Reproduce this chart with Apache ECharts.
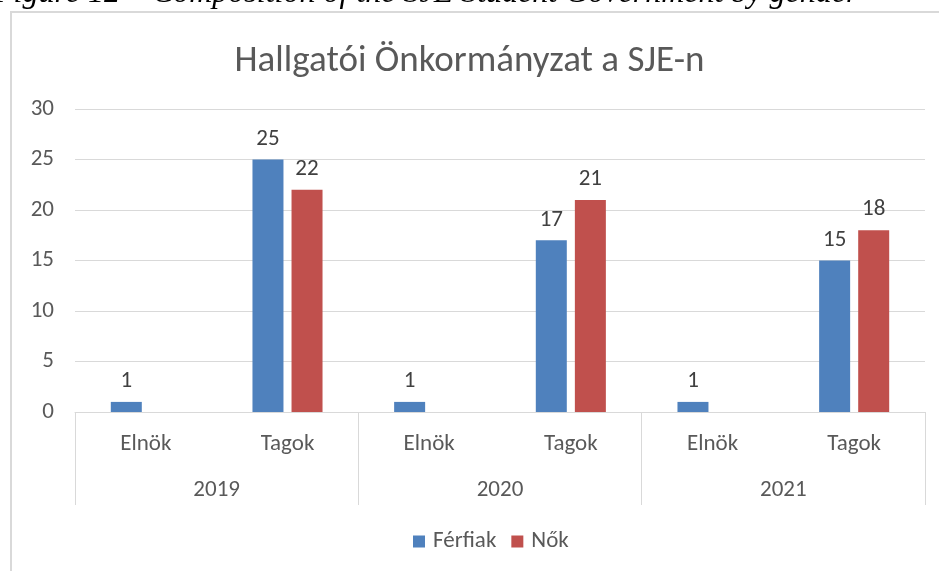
<!DOCTYPE html>
<html>
<head>
<meta charset="utf-8">
<script src="https://cdn.jsdelivr.net/npm/echarts@6/dist/echarts.min.js"></script>
<style>
  html, body { margin: 0; padding: 0; background: #fff; }
  #chart { width: 939px; height: 571px; }
</style>
</head>
<body>
<div id="chart"></div>
<script>
// adatok
const roles = ['Elnök', 'Tagok', 'Elnök', 'Tagok', 'Elnök', 'Tagok']
const years = ['2019', '2020', '2021']
const ferfiak = [1, 25, 1, 17, 1, 15]
const nok = [null, 22, null, 21, null, 18]
const yTicks = [0, 5, 10, 15, 20, 25, 30]

const font = 'Carlito, "Liberation Sans Narrow", "DejaVu Sans Condensed", sans-serif'
const txt = '#595959'

const chart = echarts.init(document.getElementById('chart'))
chart.setOption({
  animation: false,
  textStyle: { fontFamily: font },
  title: {
    text: 'Hallgatói Önkormányzat a SJE-n',
    left: 'center',
    top: 38,
    textStyle: { fontSize: 37, fontWeight: 'normal', color: txt, fontFamily: font }
  },
  graphic: [
    // levágott ábrafelirat
    {
      type: 'text',
      left: -6,
      top: -22,
      style: {
        text: 'Figure 12 – Composition of the SJE Student Government by gender',
        font: 'italic 32px "Liberation Serif", "DejaVu Serif", serif',
        fill: '#000'
      }
    },
    // diagram keret
    {
      type: 'rect',
      shape: { x: 11, y: 12, width: 950, height: 600 },
      style: { fill: 'none', stroke: '#d9d9d9', lineWidth: 2 },
      z: -1
    }
  ],
  legend: {
    bottom: 13,
    left: 408,
    itemWidth: 12,
    itemHeight: 12,
    itemGap: 15,
    icon: 'rect',
    textStyle: { fontSize: 23, color: txt, fontFamily: font, padding: [0, 0, 0, 3] },
    data: ['Férfiak', 'Nők']
  },
  grid: { left: 75, right: 14, top: 109, bottom: 159 },
  xAxis: [
    {
      type: 'category',
      data: roles,
      axisLine: { lineStyle: { color: '#d9d9d9' } },
      axisTick: { show: false },
      axisLabel: { fontSize: 23, color: txt, margin: 21, interval: 0 }
    },
    {
      type: 'category',
      data: years,
      position: 'bottom',
      axisLine: { show: false },
      axisTick: { show: true, length: 93, interval: 0, lineStyle: { color: '#d9d9d9' } },
      axisLabel: { fontSize: 23, color: txt, margin: 67, interval: 0 }
    }
  ],
  yAxis: {
    type: 'value',
    min: 0,
    max: yTicks[yTicks.length - 1],
    interval: 5,
    axisLine: { show: false },
    axisTick: { show: false },
    axisLabel: { fontSize: 23, color: txt, margin: 21 },
    splitLine: { lineStyle: { color: '#d9d9d9' } }
  },
  series: [
    {
      name: 'Férfiak',
      type: 'bar',
      data: ferfiak,
      barWidth: 31,
      barGap: '26%',
      itemStyle: { color: '#4f81bd' },
      label: { show: true, position: 'top', distance: 9, fontSize: 23, color: '#404040' }
    },
    {
      name: 'Nők',
      type: 'bar',
      data: nok,
      barWidth: 31,
      barGap: '26%',
      itemStyle: { color: '#c0504d' },
      label: { show: true, position: 'top', distance: 9, fontSize: 23, color: '#404040' }
    }
  ]
})
</script>
</body>
</html>
